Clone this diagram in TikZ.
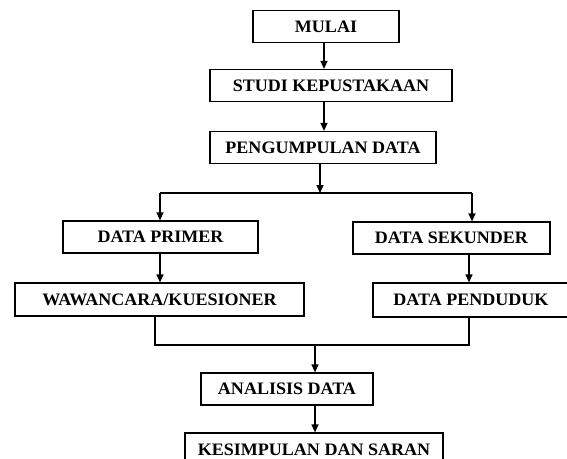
\documentclass[tikz,border=0pt]{standalone}
\usepackage{fontspec}
\setmainfont{Liberation Serif}[FakeStretch=1.03]
\usetikzlibrary{arrows.meta,calc}

\begin{document}
\begin{tikzpicture}[x=1pt,y=-1pt,
  kotak/.style={draw,line width=1.2pt,inner sep=0pt,minimum height=32pt,
    font=\fontsize{17.5}{19}\selectfont\bfseries},
  garis/.style={line width=1.2pt},
  panah/.style={line width=1.2pt,-{Triangle[length=8pt,width=7pt]}}]
\useasboundingbox (0,0) rectangle (567,458);
\clip (0,0) rectangle (567,458);

% Kotak-kotak tahapan.
\node[kotak,minimum width=146pt] (mulai) at (326,26.5) {MULAI};
\node[kotak,minimum width=242pt] (studi) at (331,85.5) {STUDI KEPUSTAKAAN};
\node[kotak,minimum width=226pt] (kumpul) at (323,147.5) {PENGUMPULAN DATA};
\node[kotak,minimum width=195pt] (primer) at (160.5,237) {DATA PRIMER};
\node[kotak,minimum width=197pt] (sekunder) at (451.5,238) {DATA SEKUNDER};
\node[kotak,minimum width=289pt,minimum height=33pt] (wawancara) at (159.5,299.5) {WAWANCARA/KUESIONER};
\node[kotak,minimum width=196pt,minimum height=34pt] (penduduk) at (471,300) {DATA PENDUDUK};
\node[kotak,minimum width=172pt] (analisis) at (287,389) {ANALISIS DATA};
\node[kotak,minimum width=258pt,minimum height=33pt] (kesimpulan) at (314,449.5) {KESIMPULAN DAN SARAN};

% Titik percabangan.
\coordinate (cabang) at (320,193);
\coordinate (kiri) at (160,193);
\coordinate (kanan) at (472,193);
\coordinate (gabungkiri) at (155,345);
\coordinate (gabungkanan) at (469,345);
\coordinate (gabung) at (315,345);

% Panah dan garis penghubung.
\draw[panah] (324,0 |- mulai.south) -- (324,0 |- studi.north);
\draw[panah] (324,0 |- studi.south) -- (324,0 |- kumpul.north);
\draw[panah] (cabang |- kumpul.south) -- (cabang);
\draw[garis] (kiri) -- (kanan);
\draw[panah] (kiri) -- (kiri |- primer.north);
\draw[panah] (kanan) -- (kanan |- sekunder.north);
\draw[panah] (kiri |- primer.south) -- (kiri |- wawancara.north);
\draw[panah] (gabungkanan |- sekunder.south) -- (gabungkanan |- penduduk.north);
\draw[garis] (gabungkiri |- wawancara.south) -- (gabungkiri) -- (gabungkanan) -- (gabungkanan |- penduduk.south);
\draw[panah] (gabung) -- (gabung |- analisis.north);
\draw[panah] (gabung |- analisis.south) -- (gabung |- kesimpulan.north);

\end{tikzpicture}
\end{document}
